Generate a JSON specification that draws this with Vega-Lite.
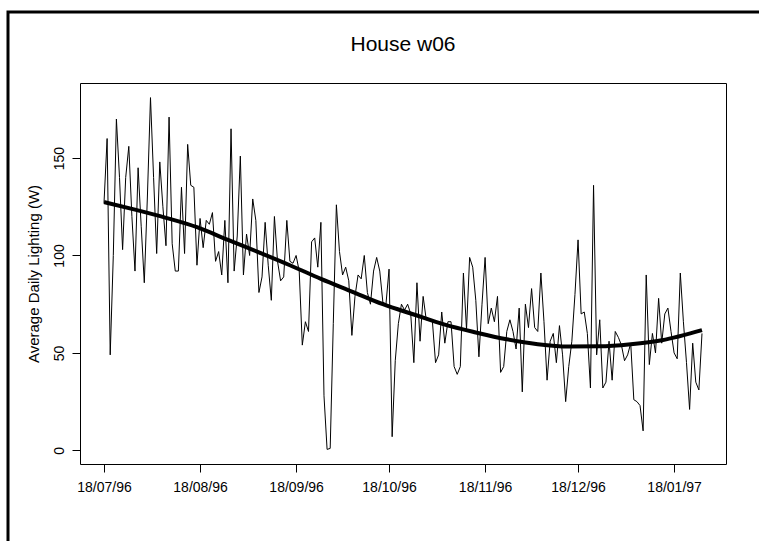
{
  "$schema": "https://vega.github.io/schema/vega-lite/v6.json",
  "width": 760,
  "height": 540,
  "autosize": "none",
  "padding": {"left": 8, "top": 12, "right": 0, "bottom": 0},
  "background": "white",
  "config": {
    "view": {"stroke": "black", "strokeWidth": 3},
    "axis": {"grid": false, "domainColor": "black", "tickColor": "black", "labelColor": "black", "titleColor": "black", "labelFont": "Liberation Sans", "titleFont": "Liberation Sans", "labelFontSize": 14, "titleFontSize": 14, "titleFontWeight": "normal", "tickSize": 8, "domainWidth": 1, "tickWidth": 1}
  },
  "title": {"text": "House w06", "anchor": "middle", "frame": "group", "offset": 0, "dx": 15, "dy": 54, "baseline": "middle", "font": "Liberation Sans", "fontSize": 21, "fontWeight": "normal", "color": "black"},
  "datasets": {
    "series": [
      {"date": "1996-07-18", "w": 127}, {"date": "1996-07-19", "w": 160}, {"date": "1996-07-20", "w": 49}, {"date": "1996-07-21", "w": 100},
      {"date": "1996-07-22", "w": 170}, {"date": "1996-07-23", "w": 140}, {"date": "1996-07-24", "w": 103}, {"date": "1996-07-25", "w": 140},
      {"date": "1996-07-26", "w": 156}, {"date": "1996-07-27", "w": 120}, {"date": "1996-07-28", "w": 92}, {"date": "1996-07-29", "w": 145},
      {"date": "1996-07-30", "w": 115}, {"date": "1996-07-31", "w": 86},
      {"date": "1996-08-01", "w": 130}, {"date": "1996-08-02", "w": 181}, {"date": "1996-08-03", "w": 140}, {"date": "1996-08-04", "w": 101},
      {"date": "1996-08-05", "w": 148}, {"date": "1996-08-06", "w": 125}, {"date": "1996-08-07", "w": 105}, {"date": "1996-08-08", "w": 171},
      {"date": "1996-08-09", "w": 106}, {"date": "1996-08-10", "w": 92}, {"date": "1996-08-11", "w": 92}, {"date": "1996-08-12", "w": 135},
      {"date": "1996-08-13", "w": 101}, {"date": "1996-08-14", "w": 157}, {"date": "1996-08-15", "w": 136}, {"date": "1996-08-16", "w": 135},
      {"date": "1996-08-17", "w": 95}, {"date": "1996-08-18", "w": 119}, {"date": "1996-08-19", "w": 104}, {"date": "1996-08-20", "w": 118},
      {"date": "1996-08-21", "w": 116}, {"date": "1996-08-22", "w": 122}, {"date": "1996-08-23", "w": 97}, {"date": "1996-08-24", "w": 102},
      {"date": "1996-08-25", "w": 90}, {"date": "1996-08-26", "w": 118}, {"date": "1996-08-27", "w": 86}, {"date": "1996-08-28", "w": 165},
      {"date": "1996-08-29", "w": 92}, {"date": "1996-08-30", "w": 110}, {"date": "1996-08-31", "w": 151},
      {"date": "1996-09-01", "w": 90}, {"date": "1996-09-02", "w": 111}, {"date": "1996-09-03", "w": 100}, {"date": "1996-09-04", "w": 129},
      {"date": "1996-09-05", "w": 118}, {"date": "1996-09-06", "w": 81}, {"date": "1996-09-07", "w": 89}, {"date": "1996-09-08", "w": 117},
      {"date": "1996-09-09", "w": 95}, {"date": "1996-09-10", "w": 77}, {"date": "1996-09-11", "w": 120}, {"date": "1996-09-12", "w": 97},
      {"date": "1996-09-13", "w": 87}, {"date": "1996-09-14", "w": 89}, {"date": "1996-09-15", "w": 118}, {"date": "1996-09-16", "w": 97},
      {"date": "1996-09-17", "w": 96}, {"date": "1996-09-18", "w": 100}, {"date": "1996-09-19", "w": 92}, {"date": "1996-09-20", "w": 54},
      {"date": "1996-09-21", "w": 66}, {"date": "1996-09-22", "w": 61}, {"date": "1996-09-23", "w": 107}, {"date": "1996-09-24", "w": 109},
      {"date": "1996-09-25", "w": 94}, {"date": "1996-09-26", "w": 117}, {"date": "1996-09-27", "w": 28}, {"date": "1996-09-28", "w": 0.5},
      {"date": "1996-09-29", "w": 1}, {"date": "1996-09-30", "w": 65},
      {"date": "1996-10-01", "w": 126}, {"date": "1996-10-02", "w": 102}, {"date": "1996-10-03", "w": 90}, {"date": "1996-10-04", "w": 94},
      {"date": "1996-10-05", "w": 87}, {"date": "1996-10-06", "w": 59}, {"date": "1996-10-07", "w": 79}, {"date": "1996-10-08", "w": 90},
      {"date": "1996-10-09", "w": 88}, {"date": "1996-10-10", "w": 100}, {"date": "1996-10-11", "w": 81}, {"date": "1996-10-12", "w": 75},
      {"date": "1996-10-13", "w": 92}, {"date": "1996-10-14", "w": 99}, {"date": "1996-10-15", "w": 92}, {"date": "1996-10-16", "w": 76},
      {"date": "1996-10-17", "w": 75}, {"date": "1996-10-18", "w": 93}, {"date": "1996-10-19", "w": 7}, {"date": "1996-10-20", "w": 46},
      {"date": "1996-10-21", "w": 65}, {"date": "1996-10-22", "w": 75}, {"date": "1996-10-23", "w": 72}, {"date": "1996-10-24", "w": 75},
      {"date": "1996-10-25", "w": 70}, {"date": "1996-10-26", "w": 45}, {"date": "1996-10-27", "w": 86}, {"date": "1996-10-28", "w": 56},
      {"date": "1996-10-29", "w": 79}, {"date": "1996-10-30", "w": 67}, {"date": "1996-10-31", "w": 67},
      {"date": "1996-11-01", "w": 66}, {"date": "1996-11-02", "w": 45}, {"date": "1996-11-03", "w": 49}, {"date": "1996-11-04", "w": 71},
      {"date": "1996-11-05", "w": 55}, {"date": "1996-11-06", "w": 66}, {"date": "1996-11-07", "w": 66}, {"date": "1996-11-08", "w": 43},
      {"date": "1996-11-09", "w": 39}, {"date": "1996-11-10", "w": 43}, {"date": "1996-11-11", "w": 91}, {"date": "1996-11-12", "w": 62},
      {"date": "1996-11-13", "w": 99}, {"date": "1996-11-14", "w": 94}, {"date": "1996-11-15", "w": 77}, {"date": "1996-11-16", "w": 48},
      {"date": "1996-11-17", "w": 75}, {"date": "1996-11-18", "w": 99}, {"date": "1996-11-19", "w": 65}, {"date": "1996-11-20", "w": 73},
      {"date": "1996-11-21", "w": 66}, {"date": "1996-11-22", "w": 79}, {"date": "1996-11-23", "w": 40}, {"date": "1996-11-24", "w": 43},
      {"date": "1996-11-25", "w": 61}, {"date": "1996-11-26", "w": 67}, {"date": "1996-11-27", "w": 61}, {"date": "1996-11-28", "w": 52},
      {"date": "1996-11-29", "w": 73}, {"date": "1996-11-30", "w": 30},
      {"date": "1996-12-01", "w": 75}, {"date": "1996-12-02", "w": 63}, {"date": "1996-12-03", "w": 83}, {"date": "1996-12-04", "w": 63},
      {"date": "1996-12-05", "w": 61}, {"date": "1996-12-06", "w": 91}, {"date": "1996-12-07", "w": 66}, {"date": "1996-12-08", "w": 36},
      {"date": "1996-12-09", "w": 56}, {"date": "1996-12-10", "w": 60}, {"date": "1996-12-11", "w": 45}, {"date": "1996-12-12", "w": 64},
      {"date": "1996-12-13", "w": 49}, {"date": "1996-12-14", "w": 25}, {"date": "1996-12-15", "w": 43}, {"date": "1996-12-16", "w": 56},
      {"date": "1996-12-17", "w": 80}, {"date": "1996-12-18", "w": 108}, {"date": "1996-12-19", "w": 70}, {"date": "1996-12-20", "w": 71},
      {"date": "1996-12-21", "w": 60}, {"date": "1996-12-22", "w": 32}, {"date": "1996-12-23", "w": 136}, {"date": "1996-12-24", "w": 49},
      {"date": "1996-12-25", "w": 67}, {"date": "1996-12-26", "w": 32}, {"date": "1996-12-27", "w": 35}, {"date": "1996-12-28", "w": 56},
      {"date": "1996-12-29", "w": 36}, {"date": "1996-12-30", "w": 61}, {"date": "1996-12-31", "w": 58},
      {"date": "1997-01-01", "w": 54}, {"date": "1997-01-02", "w": 46}, {"date": "1997-01-03", "w": 49}, {"date": "1997-01-04", "w": 55},
      {"date": "1997-01-05", "w": 26}, {"date": "1997-01-06", "w": 25}, {"date": "1997-01-07", "w": 23}, {"date": "1997-01-08", "w": 10},
      {"date": "1997-01-09", "w": 90}, {"date": "1997-01-10", "w": 44}, {"date": "1997-01-11", "w": 60}, {"date": "1997-01-12", "w": 50},
      {"date": "1997-01-13", "w": 78}, {"date": "1997-01-14", "w": 55}, {"date": "1997-01-15", "w": 70}, {"date": "1997-01-16", "w": 73},
      {"date": "1997-01-17", "w": 61}, {"date": "1997-01-18", "w": 50}, {"date": "1997-01-19", "w": 47}, {"date": "1997-01-20", "w": 91},
      {"date": "1997-01-21", "w": 66}, {"date": "1997-01-22", "w": 45}, {"date": "1997-01-23", "w": 21}, {"date": "1997-01-24", "w": 55},
      {"date": "1997-01-25", "w": 35}, {"date": "1997-01-26", "w": 31}, {"date": "1997-01-27", "w": 60}
    ],
    "trend": [
      {"date": "1996-07-18", "trend": 127.4}, {"date": "1996-07-28", "trend": 123.5}, {"date": "1996-08-07", "trend": 119.3},
      {"date": "1996-08-17", "trend": 114.5}, {"date": "1996-08-27", "trend": 108}, {"date": "1996-09-06", "trend": 101.6},
      {"date": "1996-09-16", "trend": 95}, {"date": "1996-09-26", "trend": 88}, {"date": "1996-10-06", "trend": 81.5},
      {"date": "1996-10-16", "trend": 75}, {"date": "1996-10-26", "trend": 69.7}, {"date": "1996-11-05", "trend": 64.5},
      {"date": "1996-11-15", "trend": 60.5}, {"date": "1996-11-25", "trend": 57}, {"date": "1996-12-05", "trend": 54.5},
      {"date": "1996-12-15", "trend": 53.3}, {"date": "1996-12-25", "trend": 53.4}, {"date": "1997-01-04", "trend": 54.5},
      {"date": "1997-01-14", "trend": 56.5}, {"date": "1997-01-27", "trend": 61.7}
    ]
  },
  "layer": [
    {
      "data": {"name": "series"},
      "mark": {"type": "line", "color": "black", "strokeWidth": 1, "clip": false},
      "encoding": {
        "x": {
          "field": "date", "type": "temporal",
          "scale": {"type": "utc", "nice": false, "range": [72, 718],
            "domain": [{"year": 1996, "month": 7, "date": 10, "hours": 6, "utc": true}, {"year": 1997, "month": 2, "date": 3, "hours": 18, "utc": true}]},
          "axis": {"orient": "bottom", "offset": -88, "title": null, "format": "%d/%m/%y", "labelPadding": 8,
            "values": [
              {"year": 1996, "month": 7, "date": 18, "utc": true}, {"year": 1996, "month": 8, "date": 18, "utc": true},
              {"year": 1996, "month": 9, "date": 18, "utc": true}, {"year": 1996, "month": 10, "date": 18, "utc": true},
              {"year": 1996, "month": 11, "date": 18, "utc": true}, {"year": 1996, "month": 12, "date": 18, "utc": true},
              {"year": 1997, "month": 1, "date": 18, "utc": true}]}
        },
        "y": {
          "field": "w", "type": "quantitative",
          "scale": {"domain": [-7, 188.5], "range": [452, 71], "nice": false, "zero": false},
          "axis": {"orient": "left", "offset": -72, "values": [0, 50, 100, 150], "labelAngle": -90, "labelAlign": "center", "labelBaseline": "alphabetic", "labelPadding": 9,
            "title": "Average Daily Lighting (W)", "titleX": -47, "titleBaseline": "middle", "titleAngle": -90, "titleFontSize": 15}
        }
      }
    },
    {
      "data": {"name": "trend"},
      "mark": {"type": "line", "color": "black", "strokeWidth": 4, "interpolate": "monotone"},
      "encoding": {
        "x": {"field": "date", "type": "temporal",
          "scale": {"type": "utc", "nice": false, "range": [72, 718],
            "domain": [{"year": 1996, "month": 7, "date": 10, "hours": 6, "utc": true}, {"year": 1997, "month": 2, "date": 3, "hours": 18, "utc": true}]},
          "axis": {"orient": "top", "offset": -71, "title": null, "labels": false, "ticks": false}},
        "y": {"field": "trend", "type": "quantitative",
          "scale": {"domain": [-7, 188.5], "range": [452, 71], "nice": false, "zero": false},
          "axis": {"orient": "right", "offset": -42, "title": null, "labels": false, "ticks": false}}
      }
    }
  ],
  "resolve": {"axis": {"x": "independent", "y": "independent"}}
}
